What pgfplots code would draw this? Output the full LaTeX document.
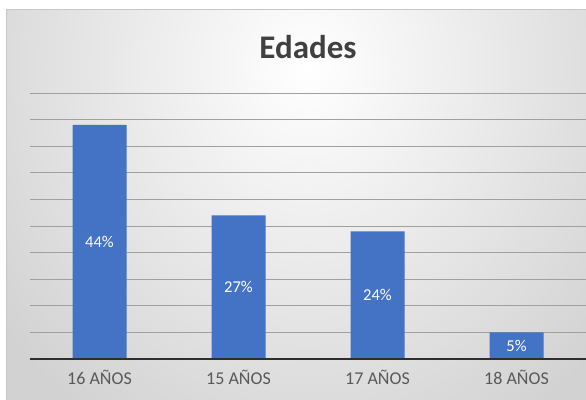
\documentclass[border=0pt]{standalone}
\usepackage{pgfplots}
\pgfplotsset{compat=1.18}
\usepackage{fontspec}
\setmainfont{Carlito}
\definecolor{barblue}{HTML}{4472C4}
\definecolor{titlegray}{HTML}{404040}
\definecolor{axisgray}{HTML}{2E2E2E}
\definecolor{labgray}{HTML}{595959}
\definecolor{gridgray}{HTML}{A0A0A0}
\definecolor{bgouter}{HTML}{D2D2D2}
\begin{document}
\begin{tikzpicture}
\useasboundingbox (0,0) rectangle (439.5pt,300pt);
\fill[white] (0,0) rectangle (439.5pt,300pt);
\begin{scope}
\clip (4.5pt,0) rectangle (439.5pt,292.5pt);
\fill[bgouter] (4.5pt,0) rectangle (439.5pt,292.5pt);
\shade[inner color=white, outer color=bgouter] (231pt,250pt) ellipse (290pt and 320pt);
\end{scope}
\draw[black!22, line width=0.75pt] (4.5pt,0) -- (4.5pt,292.5pt) -- (439.5pt,292.5pt);
\node[anchor=base, text=titlegray, font=\fontsize{24.75}{30}\selectfont\bfseries] at (231pt,255.75pt) {Edades};
\begin{axis}[
  at={(22.5pt,30.75pt)}, anchor=south west,
  scale only axis, width=417pt, height=199.5pt,
  xmin=-0.5, xmax=3.5, ymin=0, ymax=50,
  axis lines*=left,
  x axis line style={draw=axisgray, line width=1.5pt},
  y axis line style={draw=none},
  xtick={0,1,2,3}, xticklabels={16 AÑOS,15 AÑOS,17 AÑOS,18 AÑOS},
  ytick={5,10,...,50}, yticklabels={},
  major tick length=0pt,
  ymajorgrids, grid style={gridgray, line width=0.6pt},
  xticklabel style={text=labgray, font=\fontsize{13.5}{16}\selectfont, yshift=-5pt},
  ybar, bar width=40.5pt,
  /pgf/number format/assume math mode=true,
  visualization depends on={y \as \rawy},
  nodes near coords={\pgfmathprintnumber{\pgfplotspointmeta}\%},
  every node near coord/.append style={text=white, font=\fontsize{12.4}{14}\selectfont, anchor=center, shift={(axis direction cs:0,-\rawy/2)}},
]
\addplot[fill=barblue, draw=none] coordinates {(0,44) (1,27) (2,24) (3,5)};
\draw[axisgray, line width=1.5pt] (axis cs:-0.5,0) -- (axis cs:3.5,0);
\end{axis}
\end{tikzpicture}
\end{document}
